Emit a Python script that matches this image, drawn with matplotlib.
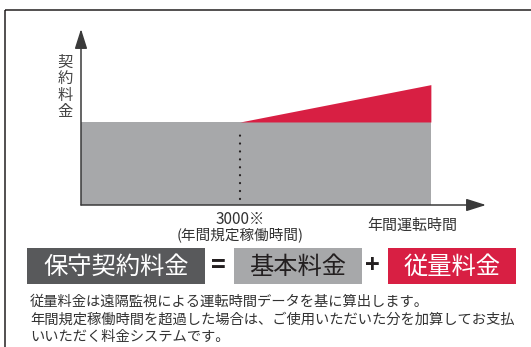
import matplotlib
matplotlib.use('Agg')
import matplotlib.pyplot as plt
from matplotlib.patches import Rectangle

plt.rcParams['font.family'] = ['Noto Sans CJK JP', 'DejaVu Sans']
plt.rcParams['lines.scale_dashes'] = False

# chart values (annual operating hours vs. fee, arbitrary fee units)
hours_end = 6600          # where the drawn fee band ends
threshold_hours = 3000    # contracted annual operating hours
base_fee = 100            # basic fee level
usage_hours = [3000, 6600]
usage_fee_top = [100, 145]

# labels
y_label = '契約料金'
x_label = '年間運転時間'
threshold_label = '3000※'
threshold_note = '(年間規定稼働時間)'
base_label = '基本料金'
usage_label = '従量料金'
formula_terms = ['保守契約料金', '基本料金', '従量料金']
formula_ops = ['=', '+']
notes = [
    '従量料金は遠隔監視による運転時間データを基に算出します。',
    '年間規定稼働時間を超過した場合は、ご使用いただいた分を加算してお支払',
    'いいただく料金システムです。',
]

dark = '#58595b'
grey = '#a7a8aa'
red = '#d81f43'
ink = '#333333'

W, H = 531, 347
fig = plt.figure(figsize=(W / 100, H / 100), dpi=100)

# overlay axes in pixel coordinates for the frame and the text blocks
ov = fig.add_axes([0, 0, 1, 1])
ov.set_xlim(0, W)
ov.set_ylim(H, 0)
ov.axis('off')
ov.add_patch(Rectangle((5, 9.5), 600, 400, fill=False, ec='#231f20', lw=1.1))

# chart axes: pixel box from x=81..486, y=29..205
x_tip, y_tip = 7640, 212
ax = fig.add_axes([81 / W, (H - 205) / H, (486 - 81) / W, (205 - 29) / H])
ax.set_xlim(0, x_tip)
ax.set_ylim(0, y_tip)
ax.axis('off')

ax.fill_between([0, hours_end], 0, base_fee, color=grey, lw=0)
ax.fill_between(usage_hours, [base_fee, base_fee], usage_fee_top, color=red, lw=0)
ax.plot([threshold_hours, threshold_hours], [base_fee * 0.07, base_fee * 0.93],
        color='#231f20', lw=1.6, ls=(0, (0.1, 5.6)), dash_capstyle='round')

arrow = dict(arrowstyle='-|>,head_length=1.2,head_width=0.38', color='#3a3a3a',
             lw=1.1, shrinkA=0, shrinkB=0, mutation_scale=10)
ax.annotate('', xy=(0, 1), xytext=(0, 0), xycoords='axes fraction',
            arrowprops=arrow, annotation_clip=False)
ax.annotate('', xy=(1, 0), xytext=(0, 0), xycoords='axes fraction',
            arrowprops=arrow, annotation_clip=False)

# chart labels
ov.text(65, 87, '\n'.join(y_label), fontsize=11, color='#444444',
        ha='center', va='center', linespacing=0.95)
ov.text(392, 112, usage_label, fontsize=11, color='white', ha='center', va='center')
ov.text(334, 163, base_label, fontsize=11, color=ink, ha='center', va='center')
ov.text(240, 219, threshold_label, fontsize=11, color=ink, ha='center', va='center')
ov.text(240, 235, threshold_note, fontsize=10.5, color=ink, ha='center', va='center')
ov.text(412, 225.5, x_label, fontsize=10.8, color=ink, ha='center', va='center')

# formula boxes
boxes = [(27, 205, dark, 'white'), (234, 362, grey, '#231f20'), (388, 516, red, 'white')]
for (x0, x1, fc, tc), term in zip(boxes, formula_terms):
    ov.add_patch(Rectangle((x0, 248), x1 - x0, 36, color=fc, lw=0))
    ov.text((x0 + x1) / 2, 266.5, term, fontsize=17.5, color=tc,
            ha='center', va='center')
for xc, op in zip([218, 372.5], formula_ops):
    ov.text(xc, 266, op, fontsize=18, color='#231f20', ha='center', va='center',
            fontweight='bold')

# notes
for y, line in zip([302, 319.5, 337], notes):
    ov.text(30, y, line, fontsize=10.3, color=ink, ha='left', va='center')

fig.savefig('out.png', dpi=100)
